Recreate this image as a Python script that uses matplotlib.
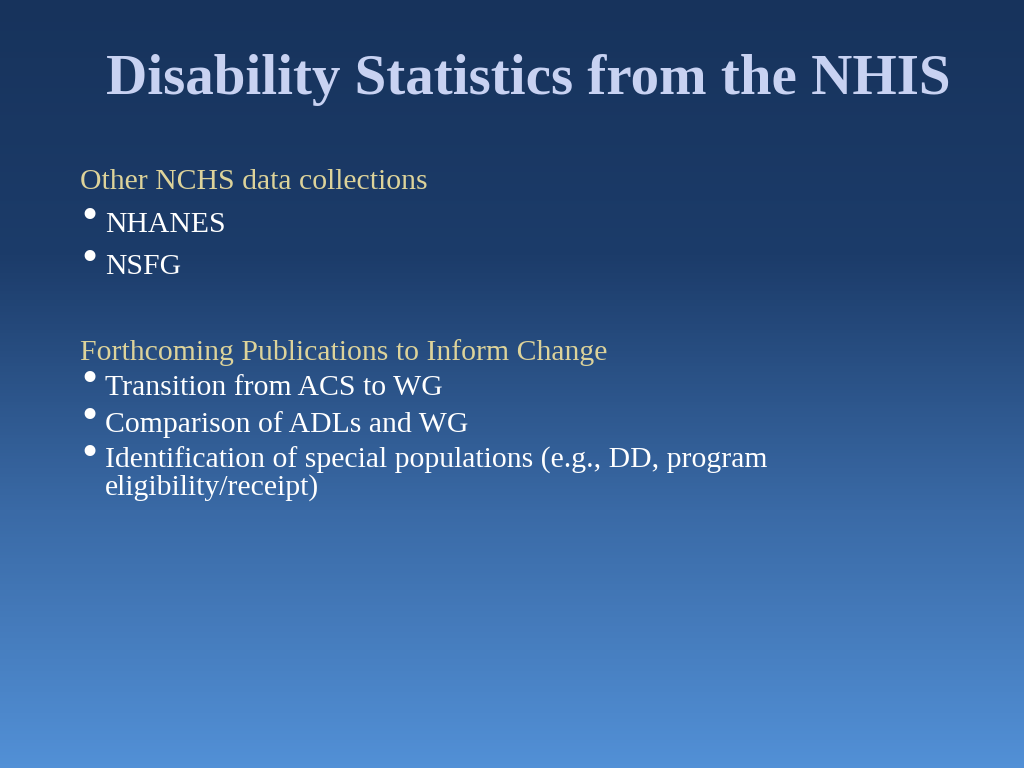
import numpy as np
import matplotlib.pyplot as plt
from matplotlib.colors import LinearSegmentedColormap

title = "Disability Statistics from the NHIS"
heading1 = "Other NCHS data collections"
items1 = ["NHANES", "NSFG"]
heading2 = "Forthcoming Publications to Inform Change"
items2 = ["Transition from ACS to WG",
          "Comparison of ADLs and WG",
          "Identification of special populations (e.g., DD, program\neligibility/receipt)"]

fig = plt.figure(figsize=(10.24, 7.68), dpi=100)
ax = fig.add_axes([0, 0, 1, 1])
ax.set_xlim(0, 1024)
ax.set_ylim(768, 0)
ax.axis("off")

# background gradient
cmap = LinearSegmentedColormap.from_list("bg", ["#17335c", "#1c3c6a", "#3a6aa6", "#5290d6"])
grad = np.linspace(0, 1, 256).reshape(-1, 1)
ax.imshow(grad, cmap=cmap, aspect="auto", extent=[0, 1024, 768, 0], zorder=0)

font = "Liberation Serif"
ax.text(528, 80, title, ha="center", va="center", fontsize=41, fontweight="bold",
        color="#c8d2f2", family=font)

body = dict(fontsize=21.4, family=font, va="center")
bullet = dict(color="white", fontsize=27, family="DejaVu Sans", va="center")

ax.text(80, 182, heading1, color="#ddd39a", **body)
for i, s in enumerate(items1):
    y = 225 + i * 42
    ax.text(78, y - 7, "\u2022", **bullet)
    ax.text(105, y, s, color="white", **body)

ax.text(80, 353, heading2, color="#ddd39a", **body)
for i, s in enumerate(items2):
    y = 388 + i * 37
    ax.text(78, y - 7, "\u2022", **bullet)
    if "\n" in s:
        ax.text(105, y - 15, s, color="white", va="top", fontsize=21.4, family=font,
                linespacing=1.0)
    else:
        ax.text(105, y, s, color="white", **body)

fig.savefig("out.png", dpi=100)
